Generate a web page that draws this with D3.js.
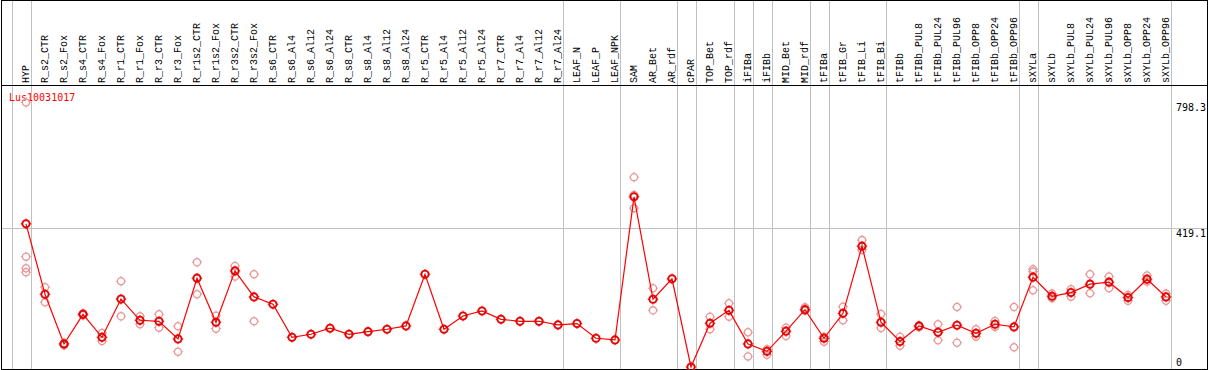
<!DOCTYPE html>
<html>
<head>
<meta charset="utf-8">
<script src="https://cdn.jsdelivr.net/npm/d3@7/dist/d3.min.js"></script>
<style>
  html, body { margin: 0; padding: 0; background: #fff; }
  svg { display: block; }
  text { font-family: "DejaVu Sans Mono", monospace; font-size: 10px; }
  .hdr { font-family: "Liberation Mono", "DejaVu Sans Mono", monospace; font-size: 10px; }
</style>
</head>
<body>
<script>
const categories = ["HYP","R_s2_CTR","R_s2_Fox","R_s4_CTR","R_s4_Fox","R_r1_CTR","R_r1_Fox","R_r3_CTR","R_r3_Fox","R_r1s2_CTR","R_r1s2_Fox","R_r3s2_CTR","R_r3s2_Fox","R_s6_CTR","R_s6_Al4","R_s6_Al12","R_s6_Al24","R_s8_CTR","R_s8_Al4","R_s8_Al12","R_s8_Al24","R_r5_CTR","R_r5_Al4","R_r5_Al12","R_r5_Al24","R_r7_CTR","R_r7_Al4","R_r7_Al12","R_r7_Al24","LEAF_N","LEAF_P","LEAF_NPK","SAM","AR_Bet","AR_rdf","cPAR","TOP_Bet","TOP_rdf","iFIBa","iFIBb","MID_Bet","MID_rdf","tFIBa","tFIB_Gr","tFIB_Li","tFIB_Bi","tFIBb","tFIBb_PUL8","tFIBb_PUL24","tFIBb_PUL96","tFIBb_OPP8","tFIBb_OPP24","tFIBb_OPP96","sXYLa","sXYLb","sXYLb_PUL8","sXYLb_PUL24","sXYLb_PUL96","sXYLb_OPP8","sXYLb_OPP24","sXYLb_OPP96"];

const meanValues = [432,219.6,69.5,159,89.7,205,141,138,84.6,268,135,290,211.5,189.4,89.7,98.8,117,98.8,106.7,114,124,280,114,154,169,144,138,138,127,131,86.7,81.6,513.6,204.5,266,0,132,171,69.5,47.3,108,173,86.7,162,364.7,135,77,124,104.8,126,101.8,129,121,271,213.6,224.5,250,256,209.5,265,211.5];

const replicateValues = [
  [798.3,333,298,286],[241,195.5],[72,66],[162,156],[102.7,78.6],[259,153],[153,129],[159,118.7],[123,46],
  [316,219.6],[155,115.7],[305,273],[280,138],[],[],[],[],[],[],[],[],[],[],[],[],[],[],[],[],[],[],[],
  [573,519,479.5],[237.8,171],[],[],[152,114],[192.5,152],[104.8,32],[53.5,37],[118.7,93.7],[180,170],
  [91.6,76.5],[182,141],[383,353.5],[160,118],[91.6,64.4],[123,120],[129,80.7],[181,73.4],[114,91.6],
  [139,121],[181,59.5],[295,288,231.7],[221.5,207.6],[234.8,212.4],[280,222.7],[273,237.8],[217.5,200],
  [276,257.7],[221.5,200]
];

// first category of each group (separators drawn before these), plus the end
const groupStarts = ["HYP","R_s2_CTR","LEAF_N","SAM","cPAR","TOP_Bet","iFIBa","iFIBb","MID_Bet","tFIBa","tFIB_Gr","tFIBb","sXYLa","sXYLb"];
const yTickValues = [798.3, 419.1, 0];
const yTickLabels = ["798.3", "419.1", "0"];
const geneId = "Lus10031017";

const W = 1209, H = 370;
const svg = d3.select("body").append("svg").attr("width", W).attr("height", H);

const x = d3.scalePoint().domain(categories).range([26, 1166]);
const step = x.step();
const y = d3.scaleLinear().domain([0, 798.3]).range([367, 102.5]);

const plotLeft = 1.5, plotRight = 1207.5, headerBottom = 85.5, plotBottom = 369.5;

// gridlines
const sepX = groupStarts.map(c => x(c) - step + 4.75);
sepX.push(x(categories[categories.length - 1]) + 4.75);
svg.append("g").selectAll("line").data(sepX).join("line")
  .attr("x1", d => Math.round(d) + 0.5).attr("x2", d => Math.round(d) + 0.5)
  .attr("y1", 0).attr("y2", plotBottom)
  .attr("stroke", "#c0c0c0").attr("stroke-width", 1);

svg.append("line")
  .attr("x1", plotLeft).attr("x2", plotRight)
  .attr("y1", Math.round(y(419.1)) + 0.5).attr("y2", Math.round(y(419.1)) + 0.5)
  .attr("stroke", "#c0c0c0");

// borders
svg.append("rect").attr("x", plotLeft).attr("y", 0.5)
  .attr("width", plotRight - plotLeft).attr("height", plotBottom - 0.5)
  .attr("fill", "none").attr("stroke", "#000").attr("stroke-width", 1);
svg.append("line").attr("x1", plotLeft).attr("x2", plotRight)
  .attr("y1", headerBottom).attr("y2", headerBottom).attr("stroke", "#000");

// header labels
svg.append("g").selectAll("text").data(categories).join("text")
  .attr("class", "hdr")
  .attr("transform", d => `translate(${Math.round(x(d)) + 3},83) rotate(-90)`)
  .attr("fill", "#000")
  .text(d => d);

// y tick labels
svg.append("g").selectAll("text").data(yTickValues).join("text")
  .attr("x", 1176)
  .attr("y", (d, i) => i === yTickValues.length - 1 ? 366 : (i === 0 ? 111 : 237))
  .attr("fill", "#000")
  .text((d, i) => yTickLabels[i]);

// gene id
svg.append("text").attr("x", 9).attr("y", 101).attr("fill", "#ff0000").text(geneId);

// marker shape: circle + tiny ticks
function marker(g, r, color, sw) {
  g.append("circle").attr("r", r).attr("fill", "none").attr("stroke", color).attr("stroke-width", sw);
  g.append("path")
    .attr("d", `M0,${-r-1.5}V${-r+0.5}M0,${r-0.5}V${r+1.5}M${-r-1.5},0H${-r+0.5}M${r-0.5},0H${r+1.5}`)
    .attr("stroke", color).attr("stroke-width", 1).attr("fill", "none");
}

// replicates
const reps = [];
categories.forEach((c, i) => replicateValues[i].forEach(v => reps.push({c, v})));
svg.append("g").selectAll("g").data(reps).join("g")
  .attr("transform", d => `translate(${x(d.c)},${y(d.v)})`)
  .each(function() { marker(d3.select(this), 3.6, "#e89a9a", 1.3); });

// line
const line = d3.line().x((d, i) => x(categories[i])).y(d => y(d));
svg.append("path").datum(meanValues).attr("d", line)
  .attr("fill", "none").attr("stroke", "#ff0000").attr("stroke-width", 1.2);

// mean markers
svg.append("g").selectAll("g").data(meanValues).join("g")
  .attr("transform", (d, i) => `translate(${x(categories[i])},${y(d)})`)
  .each(function() {
    const g = d3.select(this);
    marker(g, 3.8, "#ff0000", 1.6);
    g.append("circle").attr("r", 3.1).attr("fill", "none").attr("stroke", "#8a0000").attr("stroke-width", 0.6);
  });
</script>
</body>
</html>
